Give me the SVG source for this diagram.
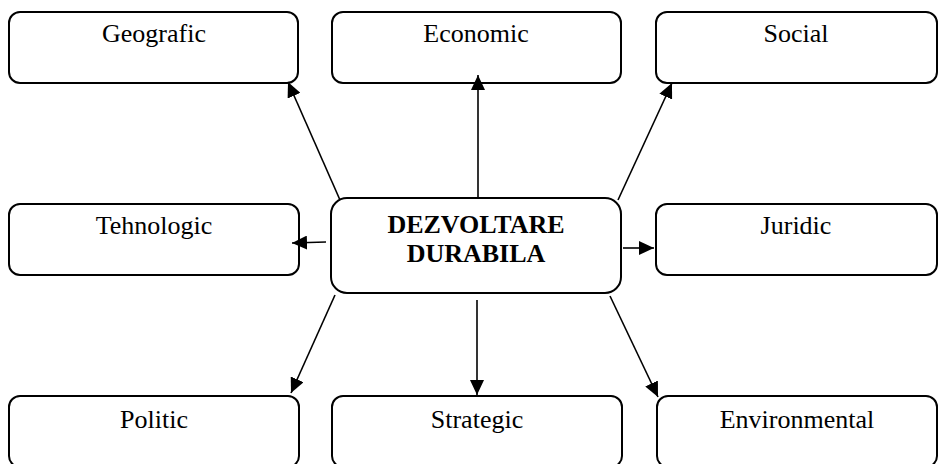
<svg xmlns="http://www.w3.org/2000/svg" width="938" height="464" viewBox="0 0 938 464">
<style>
.box{fill:#fff;stroke:#000;stroke-width:2}
.t{font-family:"Liberation Serif","Times New Roman",serif;font-size:26px;fill:#000;text-anchor:middle}
.b{font-weight:bold}
.c{stroke:#000;stroke-width:1.6;fill:none;marker-end:url(#ah)}
</style>
<defs>
<marker id="ah" markerUnits="userSpaceOnUse" markerWidth="16" markerHeight="14" viewBox="0 0 16 14" refX="15" refY="7" orient="auto">
<path d="M0,0 L15,7 L0,14 Z" fill="#000"/>
</marker>
</defs>
<rect width="938" height="464" fill="#fff"/>
<g id="geografic"><rect class="box" x="9" y="12" width="289" height="71" rx="11"/><text class="t" x="154" y="42">Geografic</text></g>
<g id="economic"><rect class="box" x="332" y="12" width="289" height="71" rx="11"/><text class="t" x="476" y="42">Economic</text></g>
<g id="social"><rect class="box" x="656" y="12" width="281" height="71" rx="11"/><text class="t" x="796" y="42">Social</text></g>
<g id="tehnologic"><rect class="box" x="9" y="204" width="290" height="71" rx="11"/><text class="t" x="154" y="234">Tehnologic</text></g>
<g id="juridic"><rect class="box" x="656" y="204" width="281" height="71" rx="11"/><text class="t" x="796" y="234">Juridic</text></g>
<g id="center"><rect class="box" x="331" y="198" width="290" height="95" rx="16"/><text class="t b" x="476" y="233">DEZVOLTARE</text><text class="t b" x="476" y="262">DURABILA</text></g>
<g id="politic"><rect class="box" x="9" y="396" width="290" height="71" rx="11"/><text class="t" x="154" y="428">Politic</text></g>
<g id="strategic"><rect class="box" x="332" y="396" width="290" height="71" rx="11"/><text class="t" x="477" y="428">Strategic</text></g>
<g id="environmental"><rect class="box" x="657" y="396" width="280" height="71" rx="11"/><text class="t" x="797" y="428">Environmental</text></g>
<g id="connectors">
<line class="c" x1="340" y1="200" x2="288" y2="82"/>
<line class="c" x1="478" y1="198" x2="478" y2="75"/>
<line class="c" x1="618" y1="200" x2="672" y2="83"/>
<line class="c" x1="326" y1="242" x2="292" y2="243"/>
<line class="c" x1="623" y1="248" x2="654" y2="248"/>
<line class="c" x1="335" y1="295" x2="291" y2="393"/>
<line class="c" x1="477" y1="300" x2="477" y2="395"/>
<line class="c" x1="610" y1="296" x2="658" y2="397"/>
</g>
</svg>
